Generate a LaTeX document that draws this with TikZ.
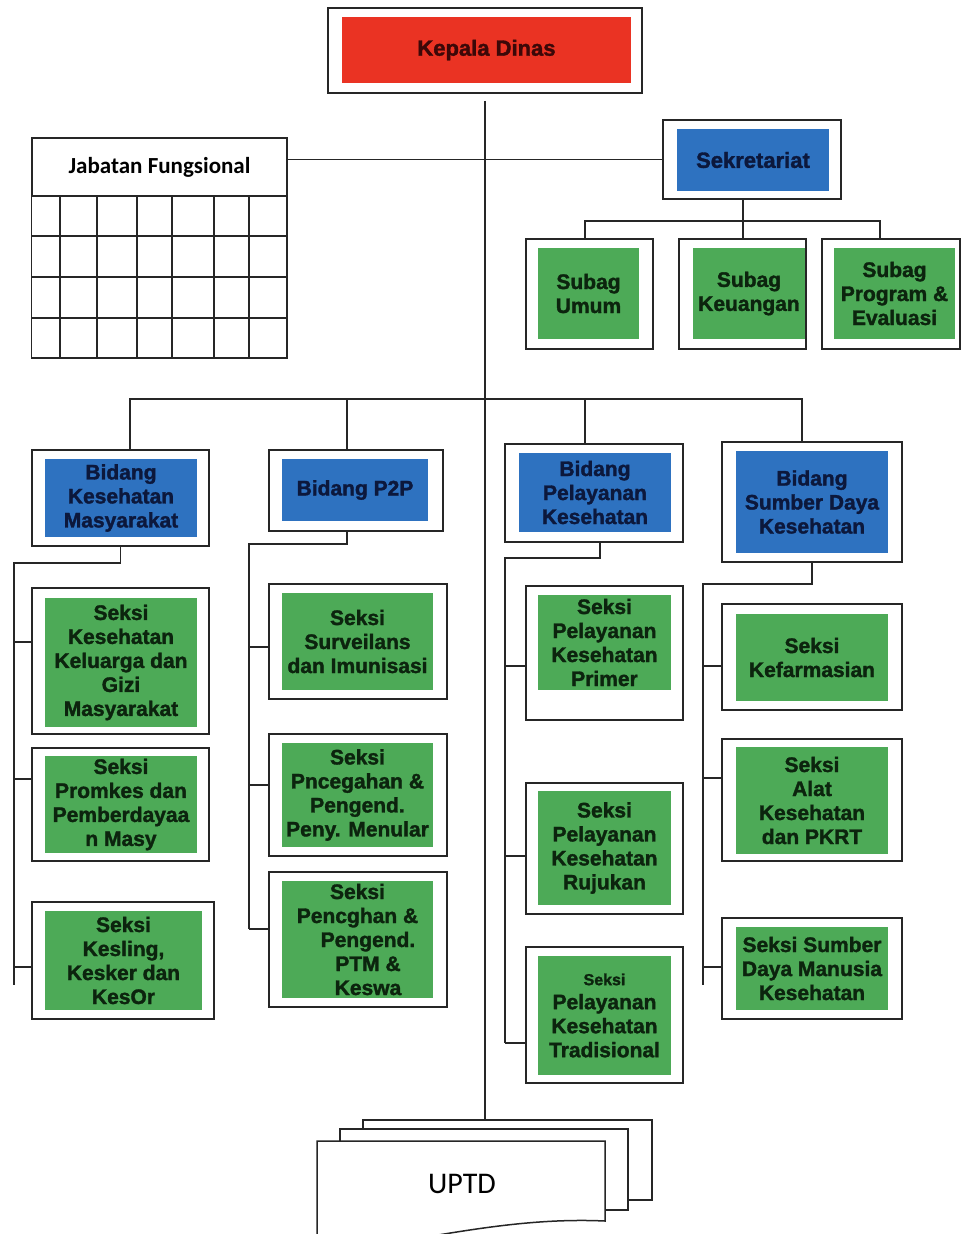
\documentclass[tikz,border=0pt]{standalone}
\usepackage{fontspec}
\setmainfont{Liberation Sans}[BoldFeatures={FakeBold=1.6}]
\newfontfamily\calibri{Carlito}
\definecolor{kdred}{RGB}{234,51,35}
\definecolor{kdtext}{RGB}{60,8,8}
\definecolor{bidblue}{RGB}{46,114,192}
\definecolor{bidtext}{RGB}{12,24,60}
\definecolor{sekgreen}{RGB}{77,170,87}
\definecolor{sektext}{RGB}{12,36,14}
\begin{document}
\begin{tikzpicture}[x=1pt,y=-1pt,
    frame/.style={draw=black!85, line width=1.6pt, fill=white, inner sep=0pt},
    box/.style={inner sep=0pt, align=center, font=\bfseries\fontsize{21}{24}\selectfont},
    redbox/.style={box, fill=kdred, text=kdtext},
    bluebox/.style={box, fill=bidblue, text=bidtext},
    greenbox/.style={box, fill=sekgreen, text=sektext},
    line/.style={line width=1.5pt, draw=black!85}]
  \useasboundingbox[fill=white] (0,0) rectangle (961,1234);

  % kepala dinas
  \node[frame, minimum width=314, minimum height=85] (kd) at (485,50.5) {};
  \node[redbox, minimum width=289, minimum height=66, font=\bfseries\fontsize{22}{26}\selectfont] (kdt) at (486.5,50) {Kepala Dinas};

  % jabatan fungsional
  \node[frame, minimum width=255, minimum height=58, font=\calibri\bfseries\fontsize{23}{26}\selectfont] (jf) at (159.5,167) {Jabatan Fungsional};
  \draw[line, line width=1.3pt] (jf.south west) rectangle (287,358);
  \foreach \x in {60,97,137,172,214,249}
    \draw[line, line width=1.3pt] (\x,196) -- (\x,358);
  \foreach \y in {236,277,318}
    \draw[line, line width=1.3pt] (32,\y) -- (287,\y);

  % sekretariat
  \node[frame, minimum width=178, minimum height=79] (sek) at (752,159.5) {};
  \node[bluebox, minimum width=152, minimum height=62, font=\bfseries\fontsize{22}{26}\selectfont] (sekt) at (753,160) {Sekretariat};

  \node[frame, minimum width=127, minimum height=110] (su) at (589.5,294) {};
  \node[greenbox, minimum width=101, minimum height=91] (sut) at (588.5,293.5) {Subag\\Umum};
  \node[frame, minimum width=127, minimum height=110] (sk) at (742.5,294) {};
  \node[greenbox, minimum width=112, minimum height=91] (skt) at (749,293.5) {Subag\\Keuangan};
  \node[frame, minimum width=138, minimum height=110] (sp) at (891,294) {};
  \node[greenbox, minimum width=121, minimum height=91] (spt) at (894.5,293.5) {Subag\\Program \&\\Evaluasi};

  % bidang
  \node[frame, minimum width=177, minimum height=96] (bkm) at (120.5,498) {};
  \node[bluebox, minimum width=152, minimum height=78] (bkmt) at (121,498) {Bidang\\Kesehatan\\Masyarakat};
  \node[frame, minimum width=174, minimum height=81] (bp2p) at (356,490.5) {};
  \node[bluebox, minimum width=146, minimum height=62] (bp2pt) at (355,490) {Bidang P2P};
  \node[frame, minimum width=178, minimum height=98] (bpk) at (594,493) {};
  \node[bluebox, minimum width=152, minimum height=79] (bpkt) at (595,492.5) {Bidang\\Pelayanan\\Kesehatan};
  \node[frame, minimum width=180, minimum height=120] (bsdk) at (812,502) {};
  \node[bluebox, minimum width=152, minimum height=102] (bsdkt) at (812,502) {Bidang\\Sumber Daya\\Kesehatan};

  % seksi kesmas
  \node[frame, minimum width=177, minimum height=146] (s11) at (120.5,661) {};
  \node[greenbox, minimum width=152, minimum height=129] (s11t) at (121,662.5) {Seksi\\Kesehatan\\Keluarga dan\\Gizi\\Masyarakat};
  \node[frame, minimum width=177, minimum height=113] (s12) at (120.5,804.5) {};
  \node[greenbox, minimum width=152, minimum height=97] (s12t) at (121,804.5) {Seksi\\Promkes dan\\Pemberdayaa\\n Masy};
  \node[frame, minimum width=182, minimum height=117] (s13) at (123,960.5) {};
  \node[greenbox, minimum width=157, minimum height=99] (s13t) at (123.5,960.5) {Seksi\\Kesling,\\Kesker dan\\KesOr};

  % seksi p2p
  \node[frame, minimum width=178, minimum height=115] (s21) at (358,641.5) {};
  \node[greenbox, minimum width=151, minimum height=97] (s21t) at (357.5,641.5) {Seksi\\Surveilans\\dan Imunisasi};
  \node[frame, minimum width=178, minimum height=122] (s22) at (358,795) {};
  \node[greenbox, minimum width=151, minimum height=104] (s22t) at (357.5,795) {Seksi\\Pncegahan \&\\Pengend.\\Peny. Menular};
  \node[frame, minimum width=178, minimum height=135] (s23) at (358,939.5) {};
  \node[greenbox, minimum width=151, minimum height=117] (s23t) at (357.5,939.5) {Seksi\\Pencghan \&\\\hspace{1em}Pengend.\\\hspace{1em}PTM \&\\\hspace{1em}Keswa};

  % seksi pelayanan
  \node[frame, minimum width=157, minimum height=134] (s31) at (604.5,653) {};
  \node[greenbox, minimum width=133, minimum height=95] (s31t) at (604.5,642.5) {Seksi\\Pelayanan\\Kesehatan\\Primer};
  \node[frame, minimum width=157, minimum height=131] (s32) at (604.5,848.5) {};
  \node[greenbox, minimum width=133, minimum height=114] (s32t) at (604.5,848) {Seksi\\Pelayanan\\Kesehatan\\Rujukan};
  \node[frame, minimum width=157, minimum height=136] (s33) at (604.5,1015) {};
  \node[greenbox, minimum width=133, minimum height=119] (s33t) at (604.5,1015.5) {{\fontsize{16}{24}\selectfont Seksi}\\Pelayanan\\Kesehatan\\Tradisional};

  % seksi sdk
  \node[frame, minimum width=180, minimum height=106] (s41) at (812,657) {};
  \node[greenbox, minimum width=152, minimum height=87] (s41t) at (812,657.5) {Seksi\\Kefarmasian};
  \node[frame, minimum width=180, minimum height=122] (s42) at (812,800) {};
  \node[greenbox, minimum width=152, minimum height=107] (s42t) at (812,800.5) {Seksi\\Alat\\Kesehatan\\dan PKRT};
  \node[frame, minimum width=180, minimum height=101] (s43) at (812,968.5) {};
  \node[greenbox, minimum width=152, minimum height=83] (s43t) at (812,968.5) {Seksi Sumber\\Daya Manusia\\Kesehatan};

  % uptd
  \node[frame, minimum width=289, minimum height=80] (uptdb) at (507.5,1160) {};
  \node[frame, minimum width=288, minimum height=81] (uptdm) at (484,1169.5) {};
  \filldraw[line, fill=white] (317,1252) -- (317,1141) -- (605,1141) -- (605,1221)
    .. controls (540,1218) and (480,1228) .. (420,1238) -- (317,1252);
  \node[font=\calibri\fontsize{30}{36}\selectfont] (uptd) at (462,1184) {UPTD};

  % garis
  \coordinate (subbar) at (743,221);
  \coordinate (subl) at (585,221);
  \coordinate (subr) at (880,221);
  \coordinate (bidl) at (130,399);
  \coordinate (bidp) at (347,399);
  \coordinate (bidk) at (585,399);
  \coordinate (bidr) at (802,399);
  \coordinate (kmspine) at (14,563);
  \coordinate (kmend) at (14,985);
  \coordinate (p2pspine) at (249,544);
  \coordinate (p2pend) at (249,929);
  \coordinate (pkspine) at (505,558);
  \coordinate (pkend) at (505,1043);
  \coordinate (sdspine) at (703,584);
  \coordinate (sdend) at (703,985);

  \draw[line] (kd.south) ++(0,7) -- (kd.south |- uptdb.north);
  \draw[line] (sek.west) -- (sek.west -| jf.east);
  \draw[line] (sek.south -| subbar) -- (subbar);
  \draw[line] (subl |- su.north) -- (subl) -- (subr) -- (subr |- sp.north);
  \draw[line] (subbar) -- (subbar |- sk.north);
  \draw[line] (bidl |- bkm.north) -- (bidl) -- (bidr) -- (bidr |- bsdk.north);
  \draw[line] (bidp) -- (bidp |- bp2p.north);
  \draw[line] (bidk) -- (bidk |- bpk.north);

  \draw[line] (bkm.south) |- (kmspine) -- (kmend);
  \draw[line] (bp2p.south -| bidp) |- (p2pspine) -- (p2pend);
  \draw[line] (bpk.south) ++(6,0) |- (pkspine) -- (pkend);
  \draw[line] (bsdk.south) |- (sdspine) -- (sdend);

  \foreach \n/\y in {s11/642, s12/779, s13/967}
    \draw[line] (kmspine |- 0,\y) -- (\n.west |- 0,\y);
  \foreach \n/\y in {s21/647, s22/785, s23/929}
    \draw[line] (p2pspine |- 0,\y) -- (\n.west |- 0,\y);
  \foreach \n/\y in {s31/666, s32/856, s33/1043}
    \draw[line] (pkspine |- 0,\y) -- (\n.west |- 0,\y);
  \foreach \n/\y in {s41/666, s42/778, s43/967}
    \draw[line] (sdspine |- 0,\y) -- (\n.west |- 0,\y);
\end{tikzpicture}
\end{document}
